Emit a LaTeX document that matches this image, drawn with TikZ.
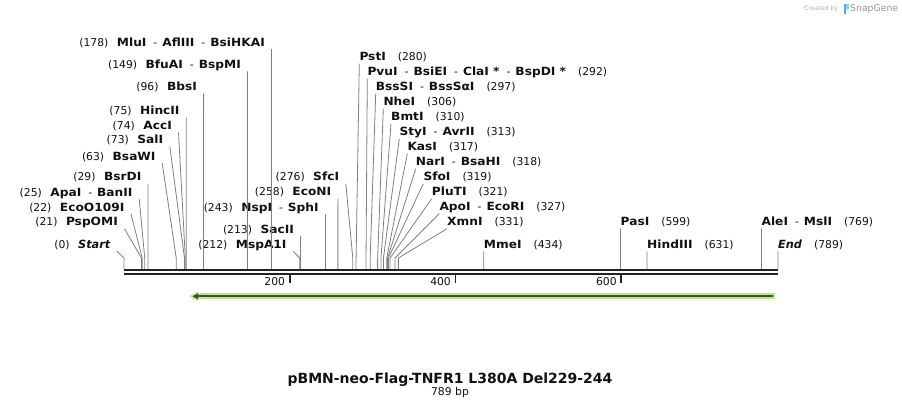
\documentclass[tikz,border=0pt]{standalone}
\usepackage{fontspec}
\setmainfont{DejaVu Sans}
\newfontfamily\enzfont{DejaVu Sans}[FakeStretch=1.08]
\usetikzlibrary{calc}
\definecolor{sitegray}{RGB}{128,128,128}
\definecolor{seqblack}{RGB}{34,34,34}
\definecolor{halogreen}{RGB}{185,232,135}
\definecolor{innerdark}{RGB}{66,76,58}
\definecolor{txt}{RGB}{17,17,17}
\definecolor{credgray}{RGB}{175,175,175}
\definecolor{snapgray}{RGB}{150,150,150}
\definecolor{logoblue}{RGB}{80,170,235}
\definecolor{logolight}{RGB}{140,205,245}
\newcommand\rn[1]{{\fontsize{10.8}{12}\selectfont(#1)}}
\newcommand\en[1]{{\enzfont\bfseries\fontsize{11.3}{12}\selectfont #1}}
\newcommand\ei[1]{{\bfseries\itshape\fontsize{11.3}{12}\selectfont #1}}
\newcommand\dsh{\hspace{7pt}{\fontsize{10.8}{12}\selectfont-}\hspace{5pt}}
\newcommand\lgap{\hspace{8.5pt}}
\newcommand\rgap{\hspace{12pt}}
\newcommand\lconn[2]{\draw[sitel] ([shift={(6.5,3)}]#1.base east) -- ([yshift=11pt]#2) -- (#2);}
\newcommand\rconn[2]{\draw[sitel] ([shift={(0,3)}]#1.base west) -- ([yshift=11pt]#2) -- (#2);}
\begin{document}
\begin{tikzpicture}[x=1pt,y=-1pt,
  lab/.style={inner sep=0pt, text=txt},
  sitel/.style={draw=sitegray, line width=0.8pt},
  seql/.style={draw=seqblack, line width=2.6pt},
  tickl/.style={draw=seqblack, line width=1.8pt}]
\fill[white] (0,0) rectangle (902,408);
\useasboundingbox (0,0) rectangle (902,408);

\foreach \p in {0,21,22,25,29,63,73,74,75,96,149,178,212,213,243,258,276,280,292,297,306,310,313,317,318,319,321,327,331,434,599,631,769,789}
  \coordinate (s\p) at ({124+\p*0.828897},269);

% left labels
\node[lab, anchor=base east] (l178) at (265,46) {\rn{178}\lgap\en{MluI}\dsh\en{AflIII}\dsh\en{BsiHKAI}};
\node[lab, anchor=base east] (l149) at (241,68.3) {\rn{149}\lgap\en{BfuAI}\dsh\en{BspMI}};
\node[lab, anchor=base east] (l96) at (197.1,90.7) {\rn{96}\lgap\en{BbsI}};
\node[lab, anchor=base east] (l75) at (179.7,114) {\rn{75}\lgap\en{HincII}};
\node[lab, anchor=base east] (l74) at (172,129.3) {\rn{74}\lgap\en{AccI}};
\node[lab, anchor=base east] (l73) at (163.3,143.3) {\rn{73}\lgap\en{SalI}};
\node[lab, anchor=base east] (l63) at (155.7,160) {\rn{63}\lgap\en{BsaWI}};
\node[lab, anchor=base east] (l29) at (141.5,180.7) {\rn{29}\lgap\en{BsrDI}};
\node[lab, anchor=base east] (l25) at (132.7,196) {\rn{25}\lgap\en{ApaI}\dsh\en{BanII}};
\node[lab, anchor=base east] (l22) at (124.5,211) {\rn{22}\lgap\en{EcoO109I}};
\node[lab, anchor=base east] (l21) at (118,225.7) {\rn{21}\lgap\en{PspOMI}};
\node[lab, anchor=base east] (l0) at (110.5,248.3) {\rn{0}\lgap\ei{Start}};
\node[lab, anchor=base east] (l243) at (318.9,211) {\rn{243}\lgap\en{NspI}\dsh\en{SphI}};
\node[lab, anchor=base east] (l258) at (331.4,195.7) {\rn{258}\lgap\en{EcoNI}};
\node[lab, anchor=base east] (l276) at (339.3,180.7) {\rn{276}\lgap\en{SfcI}};
\node[lab, anchor=base east] (l213) at (294.1,233.3) {\rn{213}\lgap\en{SacII}};
\node[lab, anchor=base east] (l212) at (286.7,248.3) {\rn{212}\lgap\en{MspA1I}};

% right labels
\node[lab, anchor=base west] (r280) at (359.3,60.7) {\en{PstI}\rgap\rn{280}};
\node[lab, anchor=base west] (r292) at (367.3,75.7) {\en{PvuI}\dsh\en{BsiEI}\dsh\en{ClaI *}\dsh\en{BspDI *}\rgap\rn{292}};
\node[lab, anchor=base west] (r297) at (375.7,90.7) {\en{BssSI}\dsh\en{BssSαI}\rgap\rn{297}};
\node[lab, anchor=base west] (r306) at (383.3,105.7) {\en{NheI}\rgap\rn{306}};
\node[lab, anchor=base west] (r310) at (391,120.7) {\en{BmtI}\rgap\rn{310}};
\node[lab, anchor=base west] (r313) at (399.3,135.7) {\en{StyI}\dsh\en{AvrII}\rgap\rn{313}};
\node[lab, anchor=base west] (r317) at (407.3,150.7) {\en{KasI}\rgap\rn{317}};
\node[lab, anchor=base west] (r318) at (415.7,165.7) {\en{NarI}\dsh\en{BsaHI}\rgap\rn{318}};
\node[lab, anchor=base west] (r319) at (423.3,180.7) {\en{SfoI}\rgap\rn{319}};
\node[lab, anchor=base west] (r321) at (431.7,195.7) {\en{PluTI}\rgap\rn{321}};
\node[lab, anchor=base west] (r327) at (439.3,210.7) {\en{ApoI}\dsh\en{EcoRI}\rgap\rn{327}};
\node[lab, anchor=base west] (r331) at (447,225.7) {\en{XmnI}\rgap\rn{331}};
\node[lab, anchor=base west] (r434) at (483.7,248.3) {\en{MmeI}\rgap\rn{434}};
\node[lab, anchor=base west] (r599) at (620.5,225.7) {\en{PasI}\rgap\rn{599}};
\node[lab, anchor=base west] (r631) at (647,248.3) {\en{HindIII}\rgap\rn{631}};
\node[lab, anchor=base west] (r769) at (761.4,225.7) {\en{AleI}\dsh\en{MslI}\rgap\rn{769}};
\node[lab, anchor=base west] (r789) at (778,248.3) {\ei{End}\rgap\rn{789}};

% connectors
\lconn{l178}{s178}\lconn{l149}{s149}\lconn{l96}{s96}\lconn{l75}{s75}
\lconn{l74}{s74}\lconn{l73}{s73}\lconn{l63}{s63}\lconn{l29}{s29}
\lconn{l25}{s25}\lconn{l22}{s22}\lconn{l21}{s21}\lconn{l0}{s0}
\lconn{l243}{s243}\lconn{l258}{s258}\lconn{l276}{s276}\lconn{l213}{s213}\lconn{l212}{s212}
\rconn{r280}{s280}\rconn{r292}{s292}\rconn{r297}{s297}\rconn{r306}{s306}
\rconn{r310}{s310}\rconn{r313}{s313}\rconn{r317}{s317}\rconn{r318}{s318}
\rconn{r319}{s319}\rconn{r321}{s321}\rconn{r327}{s327}\rconn{r331}{s331}
\rconn{r434}{s434}\rconn{r599}{s599}\rconn{r631}{s631}\rconn{r769}{s769}\rconn{r789}{s789}

% sequence
\coordinate (seqA) at (124,270);
\coordinate (seqB) at (778,270);
\draw[seql] (seqA) -- (seqB);
\draw[seql] ([yshift=-3.8pt]seqA) -- ([yshift=-3.8pt]seqB);

% ticks
\foreach \t in {200,400,600} {
  \coordinate (t\t) at ({124+\t*0.828897},275);
  \draw[tickl] (t\t) -- ++(0,8);
  \node[lab, anchor=base east] (tl\t) at ([shift={(-4.5,10)}]t\t) {\fontsize{10.8}{12}\selectfont\t};
}

% feature arrow
\coordinate (fa) at (775,296.3);
\coordinate (fb) at (189.5,296.3);
\draw[halogreen, line width=6pt] (fa) -- ([xshift=8pt]fb);
\fill[halogreen] (fb) -- ++(8.5,-4.8) -- ++(0,9.6) -- cycle;
\draw[innerdark, line width=2.2pt] ([xshift=-2.3pt]fa) -- ([xshift=7.5pt]fb);
\fill[innerdark] ([xshift=3pt]fb) -- ++(5.5,-3) -- ++(0,6) -- cycle;

% title
\node[lab, anchor=base] (title) at (450,383.3) {\bfseries\fontsize{14}{16}\selectfont pBMN-neo-Flag-TNFR1 L380A Del229-244};
\node[lab, anchor=base] (bp) at (450,395) {\fontsize{10.8}{12}\selectfont 789 bp};

% credit
\node[lab, anchor=base west, text=credgray] (cr) at (804,10.5) {\fontsize{6.2}{7}\selectfont Created by};
\fill[logoblue] (843.5,3.5) rectangle (845.8,13.5);
\fill[logolight, rounded corners=1.2pt] (845.8,3.5) rectangle (849,9.5);
\node[lab, anchor=base west, text=snapgray] (sg) at (850,11) {\fontsize{9.3}{10}\selectfont SnapGene};
\end{tikzpicture}
\end{document}
